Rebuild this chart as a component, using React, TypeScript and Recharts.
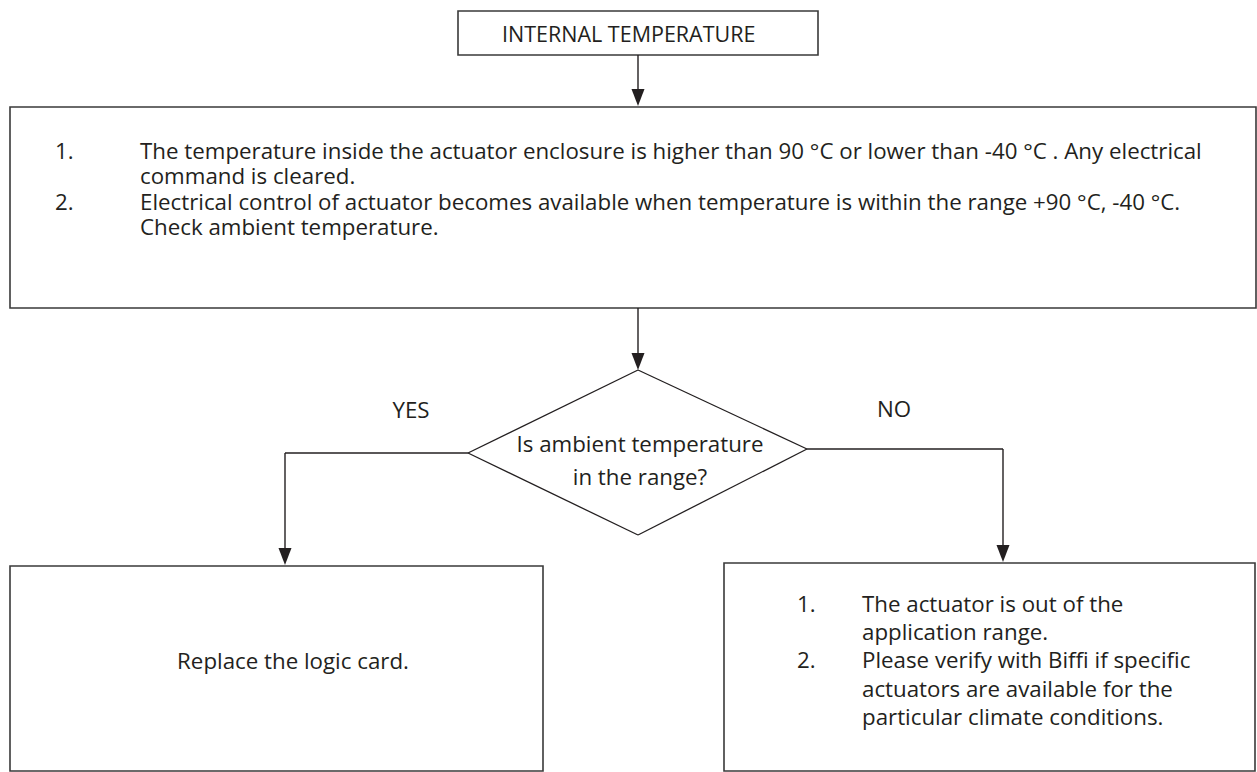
import React from 'react';
import { ComposedChart, XAxis, YAxis, ReferenceArea, ReferenceLine, Scatter } from 'recharts';

const W = 1257;
const H = 772;

// Flowchart boxes (diagram coordinates, y grows downward)
const boxes = [
  { id: 'start', x1: 458, x2: 818, y1: 11, y2: 55 },
  { id: 'check', x1: 10, x2: 1256, y1: 107, y2: 308 },
  { id: 'yes', x1: 10, x2: 543, y1: 566, y2: 771 },
  { id: 'no', x1: 724, x2: 1255, y1: 563, y2: 771 },
];

// Decision diamond vertices: top, right, bottom, left
const diamond = [
  { x: 638, y: 370 },
  { x: 807, y: 449 },
  { x: 638, y: 535 },
  { x: 468, y: 453 },
];

// Connector segments
const connectors = [
  [{ x: 638, y: 55 }, { x: 638, y: 100 }],
  [{ x: 638, y: 308 }, { x: 638, y: 365 }],
  [{ x: 468, y: 453 }, { x: 285, y: 453 }],
  [{ x: 285, y: 453 }, { x: 285, y: 560 }],
  [{ x: 807, y: 449 }, { x: 1003, y: 449 }],
  [{ x: 1003, y: 449 }, { x: 1003, y: 558 }],
];

// Arrowhead tips
const arrowTips = [
  { x: 638, y: 106 },
  { x: 638, y: 370 },
  { x: 285, y: 565 },
  { x: 1003, y: 562 },
];

// Text labels
const labels = [
  { x: 502, y: 42, text: 'INTERNAL TEMPERATURE', anchor: 'start', size: 21.5 },
  { x: 55, y: 159, text: '1.', anchor: 'start', size: 22.3 },
  { x: 140, y: 159, text: 'The temperature inside the actuator enclosure is higher than 90 °C or lower than -40 °C . Any electrical', anchor: 'start', size: 22.3 },
  { x: 140, y: 184, text: 'command is cleared.', anchor: 'start', size: 22.3 },
  { x: 55, y: 210, text: '2.', anchor: 'start', size: 22.3 },
  { x: 140, y: 210, text: 'Electrical control of actuator becomes available when temperature is within the range +90 °C, -40 °C.', anchor: 'start', size: 22.3 },
  { x: 140, y: 235, text: 'Check ambient temperature.', anchor: 'start', size: 22.3 },
  { x: 411, y: 418, text: 'YES', anchor: 'middle', size: 22.3 },
  { x: 894, y: 417, text: 'NO', anchor: 'middle', size: 22.3 },
  { x: 640, y: 452, text: 'Is ambient temperature', anchor: 'middle', size: 22.3 },
  { x: 640, y: 485, text: 'in the range?', anchor: 'middle', size: 22.3 },
  { x: 293, y: 669, text: 'Replace the logic card.', anchor: 'middle', size: 22.3 },
  { x: 797, y: 612, text: '1.', anchor: 'start', size: 22.3 },
  { x: 862, y: 612, text: 'The actuator is out of the', anchor: 'start', size: 22.3 },
  { x: 862, y: 640, text: 'application range.', anchor: 'start', size: 22.3 },
  { x: 797, y: 668, text: '2.', anchor: 'start', size: 22.3 },
  { x: 862, y: 668, text: 'Please verify with Biffi if specific', anchor: 'start', size: 22.3 },
  { x: 862, y: 697, text: 'actuators are available for the', anchor: 'start', size: 22.3 },
  { x: 862, y: 725, text: 'particular climate conditions.', anchor: 'start', size: 22.3 },
];

const INK = '#231f20';
const BOX = '#3a3a3a';
const FONT = '"Open Sans", "Noto Sans", sans-serif';

const diamondEdges = diamond.map((p, i) => [p, diamond[(i + 1) % diamond.length]]);

const ArrowHead = (props: any) => {
  const { cx, cy } = props;
  if (cx == null || cy == null) return null;
  const len = 17;
  const half = 6.5;
  return (
    <polygon
      points={`${cx},${cy} ${cx - half},${cy - len} ${cx + half},${cy - len}`}
      fill={INK}
      stroke="none"
    />
  );
};

const TextMark = (props: any) => {
  const { cx, cy, payload } = props;
  if (cx == null || cy == null || !payload) return null;
  return (
    <text
      x={cx}
      y={cy}
      textAnchor={payload.anchor}
      fontFamily={FONT}
      fontSize={payload.size}
      fill={INK}
    >
      {payload.text}
    </text>
  );
};

export default function App() {
  return (
    <div style={{ position: 'absolute', left: 0, top: 0, width: W, height: H, background: '#fff' }}>
      <ComposedChart width={W} height={H} margin={{ top: 0, right: 0, bottom: 0, left: 0 }}>
        <XAxis type="number" dataKey="x" domain={[0, W]} hide allowDataOverflow />
        <YAxis type="number" dataKey="y" domain={[0, H]} reversed hide allowDataOverflow />
        {boxes.map((b) => (
          <ReferenceArea
            key={b.id}
            x1={b.x1}
            x2={b.x2}
            y1={b.y1}
            y2={b.y2}
            fill="#fff"
            fillOpacity={0}
            stroke={BOX}
            strokeWidth={1.6}
            ifOverflow="visible"
          />
        ))}
        {diamondEdges.map((seg, i) => (
          <ReferenceLine key={`d${i}`} segment={seg} stroke={INK} strokeWidth={1.3} ifOverflow="visible" />
        ))}
        {connectors.map((seg, i) => (
          <ReferenceLine key={`c${i}`} segment={seg} stroke={INK} strokeWidth={1.4} ifOverflow="visible" />
        ))}
        <Scatter data={arrowTips} shape={ArrowHead} isAnimationActive={false} />
        <Scatter data={labels} shape={TextMark} isAnimationActive={false} />
      </ComposedChart>
    </div>
  );
}
